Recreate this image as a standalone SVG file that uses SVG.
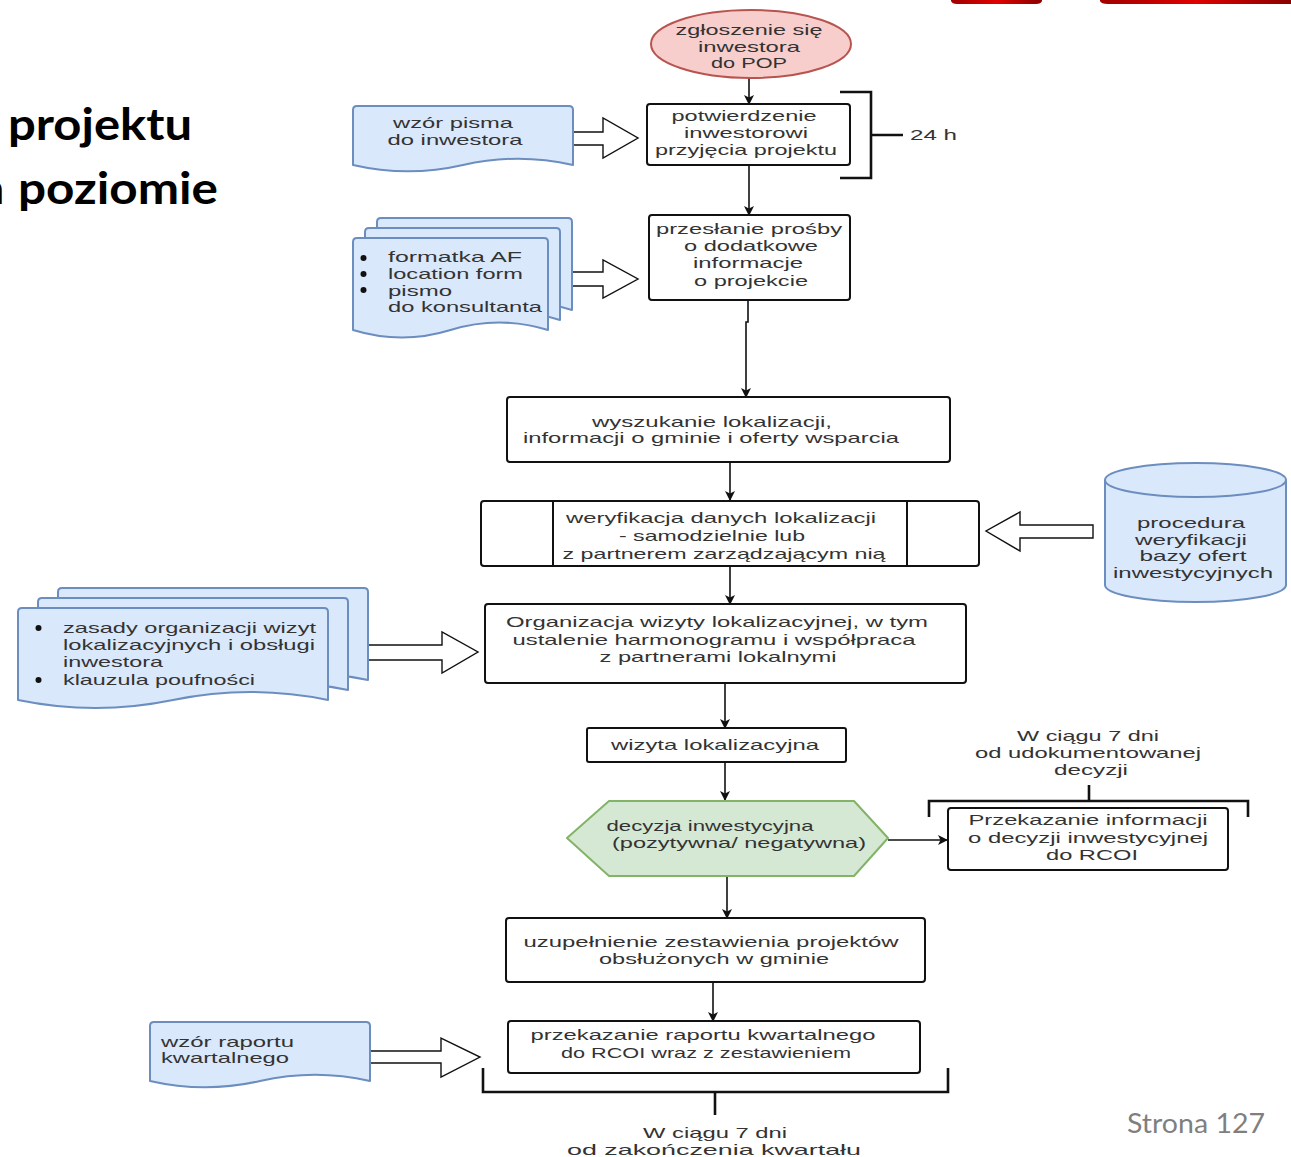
<svg xmlns="http://www.w3.org/2000/svg" width="1291" height="1157" viewBox="0 0 1291 1157">
  <defs>
    <style>
      .box { fill: #ffffff; stroke: #111111; stroke-width: 2; }
      .doc { fill: #dae8fc; stroke: #6c8ebf; stroke-width: 2; stroke-linejoin: round; }
      .blk { fill: #ffffff; stroke: #111111; stroke-width: 1.4; stroke-linejoin: miter; }
      .edge { fill: none; stroke: #111111; stroke-width: 1.6; }
      .brk { fill: none; stroke: #111111; stroke-width: 2.6; }
      .bul { fill: #111111; }
      .t { font-family: "Liberation Sans", Arial, sans-serif; font-size: 15px; fill: #333333; }
      .c { text-anchor: middle; }
      .title { font-family: Lato, "Open Sans", sans-serif; font-size: 44px; font-weight: bold; fill: #000000; }
      .page { font-family: Lato, "Open Sans", sans-serif; font-size: 27px; fill: #7f7f7f; }
    </style>
    <marker id="arr" viewBox="0 0 10 10" refX="9" refY="5" markerWidth="10" markerHeight="10" markerUnits="userSpaceOnUse" orient="auto">
      <path d="M0,0 L10,5 L0,10 L2.5,5 Z" fill="#111111"/>
    </marker>
    <linearGradient id="red" x1="0" y1="0" x2="1" y2="0">
      <stop offset="0" stop-color="#a00000"/>
      <stop offset="0.5" stop-color="#e00000"/>
      <stop offset="1" stop-color="#8a0000"/>
    </linearGradient>
  </defs>

  <rect width="1291" height="1157" fill="#ffffff"/>

  <!-- page decoration -->
  <g id="header-bars">
    <path d="M951,0 H1042 V1 Q1041,4 1036,4 H957 Q952,4 951,1 Z" fill="url(#red)"/>
    <path d="M1100,0 H1291 V4 H1108 Q1101,4 1100,1 Z" fill="url(#red)"/>
  </g>
  <g id="title">
    <text class="title" x="8" y="140" textLength="184" lengthAdjust="spacingAndGlyphs">projektu</text>
    <text class="title" x="4" y="204" text-anchor="end">a</text>
    <text class="title" x="18" y="204" textLength="200" lengthAdjust="spacingAndGlyphs">poziomie</text>
  </g>
  <text class="page" x="1127" y="1133" textLength="138" lengthAdjust="spacingAndGlyphs">Strona 127</text>

  <!-- connectors -->
  <g id="connectors">
    <path class="edge" d="M749,78 V104" marker-end="url(#arr)"/>
    <path class="edge" d="M749,165 V215" marker-end="url(#arr)"/>
    <path class="edge" d="M748,300 V322 H746 V397" marker-end="url(#arr)"/>
    <path class="edge" d="M730,462 V500" marker-end="url(#arr)"/>
    <path class="edge" d="M730,566 V604" marker-end="url(#arr)"/>
    <path class="edge" d="M725,683 V728" marker-end="url(#arr)"/>
    <path class="edge" d="M725,762 V800" marker-end="url(#arr)"/>
    <path class="edge" d="M888,840 H947" marker-end="url(#arr)"/>
    <path class="edge" d="M727,877 V918" marker-end="url(#arr)"/>
    <path class="edge" d="M713,982 V1021" marker-end="url(#arr)"/>

    <!-- block arrows from resources -->
    <polygon class="blk" points="573,132 603,132 603,118 638,138 603,158 603,145 573,145"/>
    <polygon class="blk" points="565,272 603,272 603,260 638,279 603,298 603,286 565,286"/>
    <polygon class="blk" points="1093,525 1020,525 1020,512 986,531 1020,551 1020,538 1093,538"/>
    <polygon class="blk" points="368,645 442,645 442,632 478,652 442,673 442,660 368,660"/>
    <polygon class="blk" points="370,1051 441,1051 441,1038 480,1057 441,1077 441,1063 370,1063"/>

    <!-- time brackets -->
    <path class="brk" d="M840,92 H871 V178 H840 M871,135 H903"/>
    <path class="brk" d="M929,817 V801 H1248 V817 M1089,801 V785"/>
    <path class="brk" d="M483,1068 V1092 H948 V1068 M715,1092 V1115"/>
  </g>

  <g id="start">
    <ellipse cx="751" cy="44" rx="100" ry="34" fill="#f8cecc" stroke="#b85450" stroke-width="2"/>
    <text class="t c" x="749" y="35" textLength="147" lengthAdjust="spacingAndGlyphs">zgłoszenie się</text>
    <text class="t c" x="749" y="52" textLength="102" lengthAdjust="spacingAndGlyphs">inwestora</text>
    <text class="t c" x="749" y="68" textLength="76" lengthAdjust="spacingAndGlyphs">do POP</text>
  </g>

  <g id="confirm">
    <rect class="box" x="647" y="104" width="203" height="61" rx="3"/>
    <text class="t c" x="744" y="121" textLength="145" lengthAdjust="spacingAndGlyphs">potwierdzenie</text>
    <text class="t c" x="746" y="138" textLength="124" lengthAdjust="spacingAndGlyphs">inwestorowi</text>
    <text class="t c" x="746" y="155" textLength="182" lengthAdjust="spacingAndGlyphs">przyjęcia projektu</text>
  </g>
  <text class="t" x="910" y="140" textLength="47" lengthAdjust="spacingAndGlyphs">24 h</text>

  <g id="letter-template">
    <path class="doc" d="M353,110 Q353,106 357,106 H569 Q573,106 573,110 V165 Q518,152.4 463,165 Q408,177.6 353,165 Z"/>
    <text class="t c" x="453" y="128" textLength="120" lengthAdjust="spacingAndGlyphs">wzór pisma</text>
    <text class="t c" x="455" y="145" textLength="135" lengthAdjust="spacingAndGlyphs">do inwestora</text>
  </g>

  <g id="request">
    <rect class="box" x="649" y="215" width="201" height="85" rx="3"/>
    <text class="t c" x="749" y="234" textLength="186" lengthAdjust="spacingAndGlyphs">przesłanie prośby</text>
    <text class="t c" x="751" y="251" textLength="134" lengthAdjust="spacingAndGlyphs">o dodatkowe</text>
    <text class="t c" x="748" y="268" textLength="110" lengthAdjust="spacingAndGlyphs">informacje</text>
    <text class="t c" x="751" y="286" textLength="114" lengthAdjust="spacingAndGlyphs">o projekcie</text>
  </g>

  <g id="forms">
    <path class="doc" d="M377,222 Q377,218 381,218 H568 Q572,218 572,222 V310 Q523,295 474.5,310 Q426,325 377,310 Z"/>
    <path class="doc" d="M365,232 Q365,228 369,228 H556 Q560,228 560,232 V320 Q511,305 462.5,320 Q414,335 365,320 Z"/>
    <path class="doc" d="M353,242 Q353,238 357,238 H544 Q548,238 548,242 V330 Q499,315 450.5,330 Q402,345 353,330 Z"/>
    <circle class="bul" cx="363.5" cy="258" r="3"/>
    <circle class="bul" cx="363.5" cy="274" r="3"/>
    <circle class="bul" cx="363.5" cy="290" r="3"/>
    <text class="t" x="388" y="262" textLength="134" lengthAdjust="spacingAndGlyphs">formatka AF</text>
    <text class="t" x="388" y="279" textLength="135" lengthAdjust="spacingAndGlyphs">location form</text>
    <text class="t" x="388" y="296" textLength="64" lengthAdjust="spacingAndGlyphs">pismo</text>
    <text class="t" x="388" y="312" textLength="154" lengthAdjust="spacingAndGlyphs">do konsultanta</text>
  </g>

  <g id="search">
    <rect class="box" x="507" y="397" width="443" height="65" rx="3"/>
    <text class="t c" x="712" y="427" textLength="240" lengthAdjust="spacingAndGlyphs">wyszukanie lokalizacji,</text>
    <text class="t c" x="711" y="443" textLength="376" lengthAdjust="spacingAndGlyphs">informacji o gminie i oferty wsparcia</text>
  </g>

  <g id="verify">
    <rect class="box" x="481" y="501" width="498" height="65" rx="3"/>
    <line x1="553" y1="501" x2="553" y2="566" stroke="#111111" stroke-width="2"/>
    <line x1="907" y1="501" x2="907" y2="566" stroke="#111111" stroke-width="2"/>
    <text class="t c" x="721" y="523" textLength="310" lengthAdjust="spacingAndGlyphs">weryfikacja danych lokalizacji</text>
    <text class="t c" x="712" y="541" textLength="186" lengthAdjust="spacingAndGlyphs">- samodzielnie lub</text>
    <text class="t c" x="724" y="559" textLength="323" lengthAdjust="spacingAndGlyphs">z partnerem zarządzającym nią</text>
  </g>

  <g id="offer-database">
    <path class="doc" d="M1105,480 V585 A90.5,17 0 0 0 1286,585 V480"/>
    <ellipse cx="1195.5" cy="480" rx="90.5" ry="17" fill="#dae8fc" stroke="#6c8ebf" stroke-width="2"/>
    <text class="t c" x="1191" y="528" textLength="108" lengthAdjust="spacingAndGlyphs">procedura</text>
    <text class="t c" x="1191" y="545" textLength="112" lengthAdjust="spacingAndGlyphs">weryfikacji</text>
    <text class="t c" x="1193" y="561" textLength="107" lengthAdjust="spacingAndGlyphs">bazy ofert</text>
    <text class="t c" x="1193" y="578" textLength="160" lengthAdjust="spacingAndGlyphs">inwestycyjnych</text>
  </g>

  <g id="visit-rules">
    <path class="doc" d="M58,592 Q58,588 62,588 H364 Q368,588 368,592 V680 Q290.5,664 213,680 Q135.5,696 58,680 Z"/>
    <path class="doc" d="M38,602 Q38,598 42,598 H344 Q348,598 348,602 V690 Q270.5,674 193,690 Q115.5,706 38,690 Z"/>
    <path class="doc" d="M18,612 Q18,608 22,608 H324 Q328,608 328,612 V700 Q250.5,684 173,700 Q95.5,716 18,700 Z"/>
    <circle class="bul" cx="38.5" cy="628" r="3"/>
    <circle class="bul" cx="38.5" cy="680" r="3"/>
    <text class="t" x="63" y="633" textLength="253" lengthAdjust="spacingAndGlyphs">zasady organizacji wizyt</text>
    <text class="t" x="63" y="650" textLength="252" lengthAdjust="spacingAndGlyphs">lokalizacyjnych i obsługi</text>
    <text class="t" x="63" y="667" textLength="100" lengthAdjust="spacingAndGlyphs">inwestora</text>
    <text class="t" x="63" y="685" textLength="192" lengthAdjust="spacingAndGlyphs">klauzula poufności</text>
  </g>

  <g id="organize-visit">
    <rect class="box" x="485" y="604" width="481" height="79" rx="3"/>
    <text class="t c" x="717" y="627" textLength="422" lengthAdjust="spacingAndGlyphs">Organizacja wizyty lokalizacyjnej, w tym</text>
    <text class="t c" x="714" y="645" textLength="403" lengthAdjust="spacingAndGlyphs">ustalenie harmonogramu i współpraca</text>
    <text class="t c" x="718" y="662" textLength="237" lengthAdjust="spacingAndGlyphs">z partnerami lokalnymi</text>
  </g>

  <g id="site-visit">
    <rect class="box" x="587" y="728" width="259" height="34" rx="2"/>
    <text class="t c" x="715" y="750" textLength="208" lengthAdjust="spacingAndGlyphs">wizyta lokalizacyjna</text>
  </g>

  <g id="decision">
    <polygon points="567,838 609,801 854,801 888,838 854,876 609,876" fill="#d5e8d4" stroke="#82b366" stroke-width="2" stroke-linejoin="round"/>
    <text class="t c" x="710" y="831" textLength="207" lengthAdjust="spacingAndGlyphs">decyzja inwestycyjna</text>
    <text class="t c" x="739" y="848" textLength="254" lengthAdjust="spacingAndGlyphs">(pozytywna/ negatywna)</text>
  </g>

  <text class="t c" x="1088" y="741" textLength="142" lengthAdjust="spacingAndGlyphs">W ciągu 7 dni</text>
  <text class="t c" x="1088" y="758" textLength="226" lengthAdjust="spacingAndGlyphs">od udokumentowanej</text>
  <text class="t c" x="1091" y="775" textLength="74" lengthAdjust="spacingAndGlyphs">decyzji</text>

  <g id="decision-report">
    <rect class="box" x="948" y="808" width="280" height="62" rx="3"/>
    <text class="t c" x="1088" y="825" textLength="239" lengthAdjust="spacingAndGlyphs">Przekazanie informacji</text>
    <text class="t c" x="1088" y="843" textLength="240" lengthAdjust="spacingAndGlyphs">o decyzji inwestycyjnej</text>
    <text class="t c" x="1092" y="860" textLength="92" lengthAdjust="spacingAndGlyphs">do RCOI</text>
  </g>

  <g id="summary">
    <rect class="box" x="506" y="918" width="419" height="64" rx="3"/>
    <text class="t c" x="711" y="947" textLength="375" lengthAdjust="spacingAndGlyphs">uzupełnienie zestawienia projektów</text>
    <text class="t c" x="714" y="964" textLength="230" lengthAdjust="spacingAndGlyphs">obsłużonych w gminie</text>
  </g>

  <g id="quarterly-report">
    <rect class="box" x="508" y="1021" width="412" height="52" rx="3"/>
    <text class="t c" x="703" y="1040" textLength="345" lengthAdjust="spacingAndGlyphs">przekazanie raportu kwartalnego</text>
    <text class="t c" x="706" y="1058" textLength="290" lengthAdjust="spacingAndGlyphs">do RCOI wraz z zestawieniem</text>
  </g>

  <g id="report-template">
    <path class="doc" d="M150,1026 Q150,1022 154,1022 H366 Q370,1022 370,1026 V1081 Q315,1068.4 260,1081 Q205,1093.6 150,1081 Z"/>
    <text class="t" x="161" y="1047" textLength="133" lengthAdjust="spacingAndGlyphs">wzór raportu</text>
    <text class="t" x="161" y="1063" textLength="128" lengthAdjust="spacingAndGlyphs">kwartalnego</text>
  </g>

  <text class="t c" x="715" y="1138" textLength="144" lengthAdjust="spacingAndGlyphs">W ciągu 7 dni</text>
  <text class="t c" x="714" y="1155" textLength="294" lengthAdjust="spacingAndGlyphs">od zakończenia kwartału</text>
</svg>
